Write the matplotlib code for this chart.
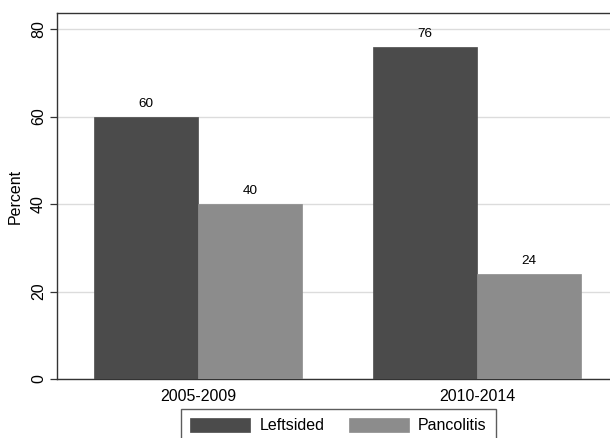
import matplotlib
matplotlib.use("Agg")
import matplotlib.pyplot as plt
import numpy as np

periods = ["2005-2009", "2010-2014"]
series_names = ["Leftsided", "Pancolitis"]
leftsided = [60, 76]
pancolitis = [40, 24]
yticks = [0, 20, 40, 60, 80]

plt.rcParams['font.family'] = ['Liberation Sans', 'DejaVu Sans']

W, H = 610, 438
fig = plt.figure(figsize=(W / 100, H / 100), dpi=100)
ax = fig.add_axes([57 / W, 1 - 379 / H, (618 - 57) / W, (379 - 13) / H])

dark = "#4b4b4b"
light = "#8c8c8c"
x = np.arange(len(periods))
bw = 0.373
b1 = ax.bar(x - bw / 2, leftsided, bw, color=dark, edgecolor=dark, linewidth=0.5, label=series_names[0], zorder=3)
b2 = ax.bar(x + bw / 2, pancolitis, bw, color=light, edgecolor=light, linewidth=0.5, label=series_names[1], zorder=3)

for bars, vals in ((b1, leftsided), (b2, pancolitis)):
    for r, v in zip(bars, vals):
        ax.annotate(f"{v}", (r.get_x() + r.get_width() / 2, v), xytext=(0, 5),
                    textcoords="offset points", ha="center", va="bottom", fontsize=9.7)

ax.set_xlim(-0.505, 1.505)
ax.set_ylim(0, 83.66)
ax.set_yticks(yticks)
ax.set_yticklabels([str(t) for t in yticks], rotation=90, va="center", fontsize=11.5)
ax.set_xticks(x)
ax.set_xticklabels(periods, fontsize=11.5)
ax.tick_params(axis="x", length=0, pad=7)
ax.tick_params(axis="y", length=5, width=0.9, color="#333333", pad=3)
ax.set_ylabel("Percent", fontsize=11.5, labelpad=6)

ax.grid(axis="y", color="#dcdcdc", linewidth=1.0, zorder=0)
ax.set_axisbelow(True)
for s in ["left", "top", "bottom"]:
    ax.spines[s].set_color("#333333")
    ax.spines[s].set_linewidth(1.0)
ax.spines["right"].set_visible(False)

leg = fig.legend(handles=[b1, b2], labels=series_names, loc="upper center",
                 bbox_to_anchor=(338.5 / W, 1 - 409 / H), ncol=2, fontsize=11.5,
                 frameon=True, fancybox=False, edgecolor="#333333",
                 handlelength=3.75, handleheight=1.0, handletextpad=0.6,
                 columnspacing=1.5, borderpad=0.55, borderaxespad=0)
leg.get_frame().set_linewidth(1.0)

fig.savefig("out.png", dpi=100)
